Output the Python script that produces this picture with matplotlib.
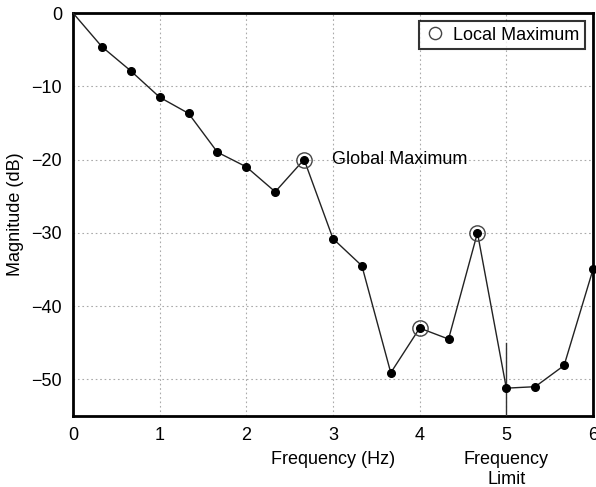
import numpy as np
import matplotlib.pyplot as plt

plt.rcParams['font.family'] = ['Liberation Sans', 'DejaVu Sans']

freq = np.arange(19) / 3.0
mag = [0, -4.6, -7.9, -11.5, -13.7, -19.0, -21.0, -24.4, -20.0, -30.8,
       -34.5, -49.1, -43.0, -44.5, -30.0, -51.2, -51.0, -48.1, -35.0]
local_max_idx = [8, 12, 14]
freq_limit = 5.0

fig = plt.figure(figsize=(5.96, 4.87), dpi=100)
ax = fig.add_axes([73 / 596, 1 - 416 / 487, 520 / 596, 403 / 487])

ax.plot(freq, mag, color='#222222', lw=1.0, zorder=3, clip_on=False)
ax.plot(freq[1:], mag[1:], 'o', color='black', ms=5.5, zorder=4, clip_on=False)
ax.plot(freq[local_max_idx], np.array(mag)[local_max_idx], 'o', mfc='none',
        mec='#444444', mew=1.0, ms=11, zorder=5, label='Local Maximum')

ax.text(freq[8] + 0.32, mag[8], 'Global Maximum', fontsize=13, va='center', ha='left')

ax.plot([freq_limit, freq_limit], [-55, -45], color='#333333', lw=1.0, zorder=3)
ax.text(freq_limit, -62.3, 'Frequency\nLimit', fontsize=13, ha='center', va='center',
        linespacing=1.2)

ax.set_xlim(0, 6)
ax.set_ylim(-55, 0)
ax.set_xticks(range(7))
ax.set_yticks([0, -10, -20, -30, -40, -50])
ax.set_yticklabels(['0', '\u221210', '\u221220', '\u221230', '\u221240', '\u221250'])
ax.tick_params(length=0, labelsize=13, pad=8)
ax.grid(True, linestyle=(0, (1.5, 2.5)), color='#aaaaaa', lw=0.8)
for s in ax.spines.values():
    s.set_linewidth(2.0)
    s.set_color('black')

ax.set_xlabel('Frequency (Hz)', fontsize=13, labelpad=5)
ax.set_ylabel('Magnitude (dB)', fontsize=13, labelpad=5)

leg = ax.legend(loc='upper right', fontsize=13, frameon=True, fancybox=False,
                borderaxespad=0.45, handletextpad=0.4, handlelength=1.2,
                borderpad=0.3, markerscale=0.8)
leg.get_frame().set_edgecolor('black')
leg.get_frame().set_linewidth(1.5)

fig.savefig('out.png', dpi=100)
